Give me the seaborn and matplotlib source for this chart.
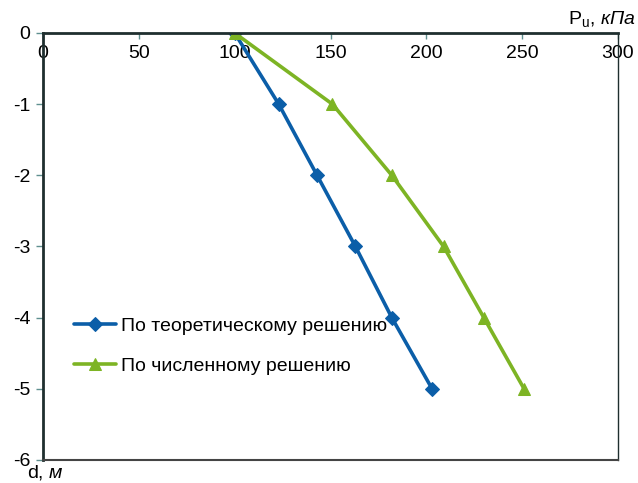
import pandas as pd
import matplotlib
matplotlib.use("Agg")
import matplotlib.pyplot as plt
import seaborn as sns

# depth, m
depth = [0, -1, -2, -3, -4, -5]
# ultimate pressure, kPa
p_theory = [100, 123, 143, 163, 182, 203]
p_numeric = [100, 151, 182, 209, 230, 251]
label_theory = "По теоретическому решению"
label_numeric = "По численному решению"
xticks = [0, 50, 100, 150, 200, 250, 300]
yticks = [0, -1, -2, -3, -4, -5, -6]

sns.set_style("white")
plt.rcParams['font.family'] = ['Liberation Sans', 'DejaVu Sans']
plt.rcParams['mathtext.fontset'] = 'custom'
plt.rcParams['mathtext.rm'] = 'Liberation Sans'
plt.rcParams['mathtext.it'] = 'Liberation Sans:italic'
plt.rcParams['axes.unicode_minus'] = False
plt.rcParams['text.color'] = 'black'
plt.rcParams['xtick.labelcolor'] = 'black'
plt.rcParams['ytick.labelcolor'] = 'black'

blue = "#0B5EA8"
green = "#7DB424"
fs = 14

fig = plt.figure(figsize=(6.38, 4.83), dpi=100)
ax = fig.add_axes([43 / 638, 1 - 460 / 483, 575 / 638, 427 / 483])

df1 = pd.DataFrame({"p": p_theory, "d": depth})
df2 = pd.DataFrame({"p": p_numeric, "d": depth})
sns.lineplot(data=df1, x="p", y="d", sort=False, estimator=None, color=blue,
             lw=2.6, marker="D", markersize=7, markeredgecolor=blue,
             label=label_theory, ax=ax)
sns.lineplot(data=df2, x="p", y="d", sort=False, estimator=None, color=green,
             lw=2.6, marker="^", markersize=9, markeredgecolor=green,
             label=label_numeric, ax=ax)

ax.set_xlim(0, 300)
ax.set_ylim(-6, 0)
ax.set_xticks(xticks)
ax.set_yticks(yticks)
ax.set_xlabel("")
ax.set_ylabel("")

ax.xaxis.tick_top()
ax.tick_params(axis='x', direction='in', length=4, pad=-21, labelsize=fs,
               color="#5f8f8f", width=1)
ax.tick_params(axis='y', direction='out', length=5, pad=4, labelsize=fs,
               color="#5f8f8f", width=1, left=True)

for s in ax.spines.values():
    s.set_visible(True)
    s.set_color("#1f2f2f")
ax.spines['left'].set_linewidth(2)
ax.spines['top'].set_linewidth(2)
ax.spines['right'].set_linewidth(1)
ax.spines['bottom'].set_linewidth(1.5)
ax.spines['bottom'].set_color("#444444")

leg = ax.legend(loc='upper left', bbox_to_anchor=(0.04, 0.352), frameon=False,
                fontsize=fs, handlelength=2.15, handletextpad=0.28,
                labelspacing=1.15, borderaxespad=0)

fig.text(636 / 638, 1 - 24 / 483, r"P$_{\mathrm{u}}$, $\mathit{кПа}$",
         ha='right', va='baseline', fontsize=fs)
fig.text(27 / 638, 1 - 478 / 483, r"d, $\mathit{м}$",
         ha='left', va='baseline', fontsize=fs)

fig.savefig("out.png", dpi=100)
